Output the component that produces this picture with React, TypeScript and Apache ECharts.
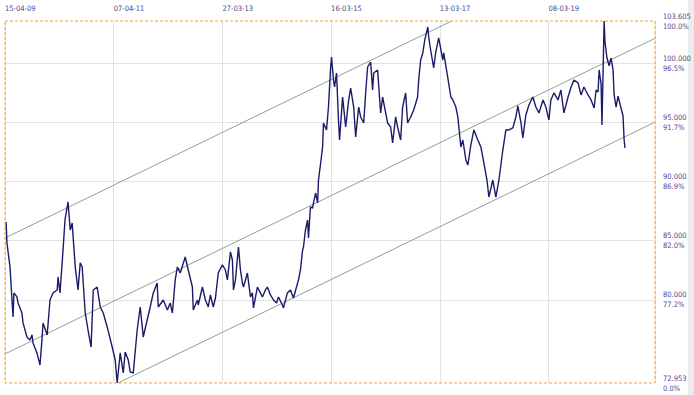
import React, { useEffect, useRef } from "react";
import * as echarts from "echarts";

// x axis: trading-day index from 15-04-09, a label every 500 sessions
const xTickLabels = ["15-04-09", "07-04-11", "27-03-13", "16-03-15", "13-03-17", "08-03-19"];
const xMax = 2990;
const yMin = 72.953;
const yMax = 103.605;
const yTickValues = [103.605, 100, 95, 90, 85, 80, 72.953];
const yTickPercents = ["100.0%", "96.5%", "91.7%", "86.9%", "82.0%", "77.2%", "0.0%"];
const yGridValues = [100, 95, 90, 85, 80];

// price path [sessionIndex, price]
const price2009: [number, number][] = [
  [5, 86.59], [9, 84.81], [23, 82.78], [37, 78.54], [41, 80.58], [55, 80.24], [60, 79.73], [78, 78.88],
  [83, 78.04], [101, 76.85], [115, 76.6], [124, 77.02], [129, 76.34], [147, 75.5], [161, 74.48], [170, 76.6],
  [175, 78.04], [194, 77.02], [207, 79.98], [221, 80.58], [240, 80.83], [244, 81.93], [253, 80.58], [267, 84.22],
  [276, 86.76], [290, 88.28], [300, 85.91], [309, 86.5], [323, 82.78], [336, 80.83], [346, 83.12], [355, 82.78],
  [369, 78.88], [382, 77.44], [396, 76.0], [406, 80.83], [424, 81.08], [438, 79.39], [452, 78.88], [470, 77.7],
  [493, 76.0], [507, 74.9], [516, 72.95], [530, 75.5], [544, 73.8], [553, 75.58], [567, 74.9], [576, 73.89],
  [590, 73.8], [608, 77.44], [622, 79.39], [636, 76.85], [654, 78.29], [668, 79.39], [682, 80.58], [700, 81.42],
  [705, 79.39], [728, 79.98], [747, 79.14], [760, 79.73], [770, 78.88], [783, 81.68], [793, 82.78], [806, 82.27],
  [829, 83.62], [843, 82.52], [862, 81.08], [866, 79.14], [885, 79.98], [889, 79.56], [908, 81.08], [922, 79.98],
  [935, 79.39], [945, 80.41], [958, 79.39], [968, 80.15], [981, 82.27], [1000, 82.95],
];
const price2013: [number, number][] = [
  [1014, 82.52], [1023, 81.68], [1037, 84.05], [1046, 83.37], [1051, 80.83], [1060, 81.68], [1074, 84.47],
  [1083, 82.52], [1092, 81.42], [1097, 81.08], [1115, 82.27], [1129, 80.24], [1138, 80.58], [1143, 79.31],
  [1161, 81.08], [1175, 80.58], [1184, 80.24], [1198, 80.83], [1207, 81.08], [1221, 80.41], [1235, 79.98],
  [1249, 79.73], [1258, 80.24], [1276, 79.56], [1281, 79.31], [1299, 80.58], [1313, 80.83], [1327, 80.15],
  [1346, 81.42], [1350, 81.68], [1359, 82.52], [1369, 84.22], [1373, 84.47], [1382, 85.91], [1392, 86.76],
  [1396, 85.23], [1405, 87.86], [1415, 87.77], [1419, 88.2], [1429, 89.04], [1438, 88.2], [1442, 90.14],
  [1452, 91.58], [1461, 92.94], [1465, 94.97], [1479, 94.38], [1488, 96.32], [1498, 99.71], [1502, 100.56],
  [1511, 98.61], [1516, 98.02], [1525, 99.2], [1534, 95.22], [1539, 93.53], [1553, 97.17], [1567, 94.63],
  [1581, 96.92], [1590, 97.93], [1604, 96.32], [1613, 93.78], [1627, 96.32], [1636, 95.48], [1650, 94.97],
  [1659, 97.51], [1668, 99.71], [1682, 100.13], [1691, 97.76], [1696, 99.2], [1714, 99.46], [1728, 95.82],
  [1737, 97.17], [1751, 95.82], [1760, 94.97], [1774, 94.63], [1783, 93.28], [1797, 95.48], [1806, 94.63],
  [1820, 93.53], [1829, 96.32], [1843, 97.51], [1852, 94.97], [1866, 95.48], [1880, 96.07], [1898, 97.17],
  [1903, 98.61], [1912, 100.3], [1922, 100.9], [1931, 102.0], [1945, 103.1], [1949, 102.25], [1958, 101.15],
  [1972, 99.63], [1981, 100.9], [1995, 102.17],
];
const price2017: [number, number][] = [
  [2014, 100.3], [2018, 100.9], [2037, 98.78], [2051, 97.17], [2060, 96.92], [2074, 96.32], [2083, 95.48],
  [2097, 92.94], [2106, 93.53], [2120, 91.84], [2129, 91.41], [2143, 93.11], [2157, 94.38], [2175, 93.53],
  [2189, 92.94], [2203, 91.58], [2217, 90.14], [2226, 88.7], [2244, 90.14], [2258, 88.7], [2272, 90.14],
  [2290, 92.68], [2304, 94.38], [2318, 94.38], [2336, 94.55], [2350, 95.48], [2359, 96.41], [2373, 95.05],
  [2382, 93.7], [2396, 95.65], [2410, 96.49], [2428, 97.17], [2442, 96.32], [2456, 95.82], [2475, 96.92],
  [2488, 96.32], [2502, 95.22], [2511, 96.92], [2525, 97.51], [2544, 96.92], [2557, 97.76], [2571, 95.82],
  [2590, 97.17], [2604, 98.02], [2617, 98.61], [2636, 98.36], [2650, 97.34], [2663, 98.02], [2682, 97.34],
  [2696, 96.92], [2710, 96.24], [2719, 97.76], [2728, 97.59], [2733, 99.46], [2742, 98.27], [2746, 94.8],
  [2756, 103.6], [2760, 101.83], [2769, 100.47], [2779, 99.8], [2788, 100.47], [2797, 99.46], [2802, 97.34],
  [2811, 96.32], [2820, 97.25], [2829, 96.58], [2843, 95.56], [2848, 93.53], [2852, 92.85],
];

// trend channel
const channelUpper: [number, number][] = [[0, 85.23], [2055, 103.605]];
const channelMiddle: [number, number][] = [[0, 75.41], [2990, 102.14]];
const channelLower: [number, number][] = [[520, 72.953], [2990, 95.04]];

const FONT = "'Liberation Sans Narrow', 'DejaVu Sans Condensed', 'Liberation Sans', sans-serif";
const TEXT = "#4a4a8e";
const BORDER = "#f0a23a";
const CHANNEL = "#7d9a8c";
const GRIDLINE = "#e2e2e2";

export default function App() {
  const ref = useRef<HTMLDivElement>(null);
  useEffect(() => {
    if (!ref.current) return;
    const chart = echarts.init(ref.current, undefined, { renderer: "svg" });
    const channelSeries = (name: string, data: [number, number][], extra: any = {}) => ({
      name,
      type: "line",
      data,
      showSymbol: false,
      silent: true,
      z: 2,
      lineStyle: { color: CHANNEL, width: 0.9 },
      ...extra,
    });
    chart.setOption({
      animation: false,
      backgroundColor: "#ffffff",
      textStyle: { fontFamily: FONT },
      grid: { left: 5, right: 39, top: 21, bottom: 12, containLabel: false },
      xAxis: {
        type: "value",
        position: "top",
        min: 0,
        max: xMax,
        interval: 500,
        axisLine: { show: false },
        axisTick: { show: false },
        splitLine: { show: true, lineStyle: { color: GRIDLINE, width: 1 } },
        axisLabel: {
          color: TEXT,
          fontSize: 7.5,
          fontFamily: FONT,
          align: "left",
          margin: 9,
          showMaxLabel: false,
          formatter: (v: number) => (v % 500 === 0 ? xTickLabels[v / 500] ?? "" : ""),
        },
      },
      yAxis: {
        type: "value",
        position: "right",
        min: yMin,
        max: yMax,
        axisLine: { show: false },
        axisTick: { show: false },
        axisLabel: { show: false },
        splitLine: { show: false },
      },
      series: [
        channelSeries("upper", channelUpper, {
          markLine: {
            silent: true,
            symbol: "none",
            z: 1,
            label: { show: false },
            lineStyle: { color: GRIDLINE, width: 1, type: "solid" },
            data: yGridValues.map((v) => ({ yAxis: v })),
          },
        }),
        channelSeries("middle", channelMiddle),
        channelSeries("lower", channelLower),
        {
          name: "price",
          type: "line",
          data: [...price2009, ...price2013, ...price2017],
          showSymbol: false,
          z: 5,
          lineStyle: { color: "#1b1b6a", width: 1.4 },
        },
      ],
    });
    // frame, right-hand labels and the grey strip, placed from the axes' own scales
    const toPx = (x: number, y: number) =>
      chart.convertToPixel({ xAxisIndex: 0, yAxisIndex: 0 }, [x, y]) as number[];
    const [x0, y0] = toPx(0, yMax);
    const [x1, y1] = toPx(xMax, yMin);
    const labelTexts = yTickValues.map((v, i) => {
      const [, py] = toPx(xMax, v);
      return {
        type: "text",
        x: x1 + 8,
        y: py,
        silent: true,
        z: 50,
        style: {
          text: `${v.toFixed(3)}\n${yTickPercents[i]}`,
          fill: TEXT,
          fontSize: 7.5,
          fontFamily: FONT,
          lineHeight: 10,
          align: "left",
          verticalAlign: "middle",
        },
      };
    });
    chart.setOption({
      graphic: [
        {
          type: "rect",
          z: 100,
          silent: true,
          shape: { x: x0, y: y0, width: x1 - x0, height: y1 - y0 },
          style: { fill: "none", stroke: BORDER, lineWidth: 1, lineDash: [3, 2] },
        },
        ...labelTexts,
        {
          type: "rect",
          right: 0,
          top: 0,
          silent: true,
          shape: { width: 6, height: 395 },
          style: { fill: "#ececec" },
        },
      ],
    });
    return () => chart.dispose();
  }, []);
  return <div ref={ref} style={{ position: "fixed", left: 0, top: 0, width: 694, height: 395 }} />;
}
